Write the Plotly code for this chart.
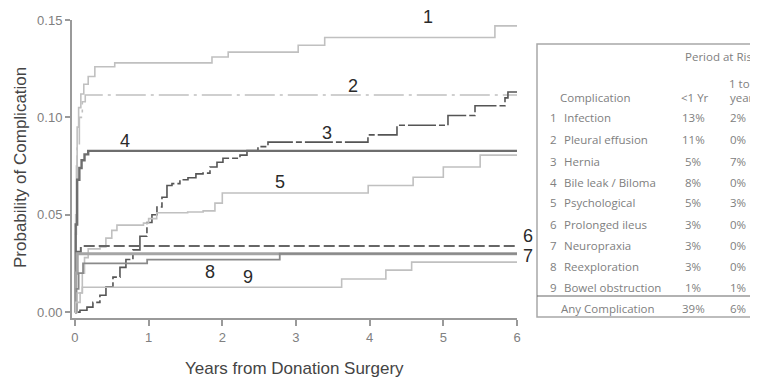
import plotly.graph_objects as go

# ---------------- data ----------------
t_infection = [0, 0.01, 0.02, 0.03, 0.05, 0.08, 0.12, 0.18, 0.27, 0.54, 1.86, 2.08, 3.03, 3.39, 5.70, 6.0]
v_infection = [0, 0.04, 0.075, 0.095, 0.105, 0.112, 0.117, 0.121, 0.126, 0.128, 0.131, 0.1335, 0.137, 0.141, 0.147, 0.147]

t_pleural = [0, 0.01, 0.03, 0.06, 0.10, 0.14, 6.0]
v_pleural = [0, 0.05, 0.085, 0.100, 0.108, 0.1115, 0.1115]

t_hernia = [0, 0.068, 0.163, 0.244, 0.339, 0.421, 0.516, 0.611, 0.692, 0.787, 0.882, 0.977, 1.045, 1.113,
            1.181, 1.249, 1.317, 1.425, 1.534, 1.642, 1.738, 1.833, 1.928, 2.009, 2.240, 2.335, 2.484,
            2.620, 3.977, 4.371, 5.063, 5.430, 5.837, 5.877, 6.0]
v_hernia = [0, 0.001, 0.0026, 0.005, 0.0087, 0.013, 0.018, 0.023, 0.027, 0.032, 0.039, 0.046, 0.050, 0.054,
            0.059, 0.065, 0.066, 0.068, 0.069, 0.071, 0.0714, 0.0745, 0.077, 0.079, 0.0806, 0.083, 0.085,
            0.0873, 0.091, 0.096, 0.101, 0.106, 0.110, 0.113, 0.113]

t_bile = [0, 0.01, 0.03, 0.06, 0.09, 0.13, 0.18, 6.0]
v_bile = [0, 0.045, 0.068, 0.074, 0.078, 0.081, 0.0828, 0.0828]

t_psych = [0, 0.03, 0.07, 0.10, 0.13, 0.18, 0.34, 0.42, 0.50, 0.57, 0.93, 1.00, 1.11, 1.53, 1.74, 1.90,
           2.00, 3.98, 4.59, 5.00, 5.50, 6.0]
v_psych = [0, 0.005, 0.010, 0.020, 0.028, 0.0325, 0.0335, 0.038, 0.042, 0.0447, 0.0457, 0.048, 0.051,
           0.0514, 0.052, 0.056, 0.0612, 0.065, 0.0693, 0.0745, 0.0806, 0.0806]

t_ileus = [0, 0.01, 0.02, 0.08, 6.0]
v_ileus = [0, 0.020, 0.031, 0.034, 0.034]

t_neuro = [0, 0.01, 0.03, 6.0]
v_neuro = [0, 0.020, 0.030, 0.030]

t_reexp = [0, 0.02, 0.05, 0.11, 0.98, 2.78, 6.0]
v_reexp = [0, 0.012, 0.020, 0.025, 0.027, 0.030, 0.030]

t_bowel = [0, 0.01, 0.03, 0.10, 3.62, 4.22, 4.57, 6.0]
v_bowel = [0, 0.005, 0.0098, 0.0128, 0.017, 0.0216, 0.0257, 0.0257]

curve_labels = ["1", "2", "3", "4", "5", "6", "7", "8", "9"]

x_ticks = [0, 1, 2, 3, 4, 5, 6]
y_ticks = [0.00, 0.05, 0.10, 0.15]

table_nums = ["1", "2", "3", "4", "5", "6", "7", "8", "9"]
table_names = ["Infection", "Pleural effusion", "Hernia", "Bile leak / Biloma", "Psychological",
               "Prolonged ileus", "Neuropraxia", "Reexploration", "Bowel obstruction"]
table_lt1 = ["13%", "11%", "5%", "8%", "5%", "3%", "3%", "3%", "1%"]
table_1to6 = ["2%", "0%", "7%", "0%", "3%", "0%", "0%", "0%", "1%"]
any_label = "Any Complication"
any_lt1 = "39%"
any_1to6 = "6%"

# ---------------- figure ----------------
OFF = 8  # page body margin offset
W, H = 758, 388
ML, MT = 72 - OFF, 20 - OFF
PW, PH = 445, 298
MR, MB = W - ML - PW, H - MT - PH


def px(x):
    return (x - OFF - ML) / PW


def py(y):
    return (MT + PH - (y - OFF)) / PH


LIGHT = "#c0c0c0"
series = [
    (t_infection, v_infection, dict(color=LIGHT, width=1.6)),
    (t_pleural, v_pleural, dict(color=LIGHT, width=1.6, dash="30px,5px,3px,5px")),
    (t_hernia, v_hernia, dict(color="#555555", width=1.6, dash="28px,3px,6px,3px")),
    (t_bile, v_bile, dict(color="#6e6e6e", width=2.4)),
    (t_psych, v_psych, dict(color=LIGHT, width=1.6)),
    (t_ileus, v_ileus, dict(color="#666666", width=2, dash="11px,4px")),
    (t_neuro, v_neuro, dict(color="#a5a5a5", width=3.2)),
    (t_reexp, v_reexp, dict(color="#8a8a8a", width=1.8)),
    (t_bowel, v_bowel, dict(color=LIGHT, width=1.6)),
]

fig = go.Figure()
for t, v, ln in series:
    fig.add_trace(go.Scatter(x=t, y=v, mode="lines", line=dict(shape="hv", **ln),
                             showlegend=False, hoverinfo="skip"))

annotations = []
label_px = [(428, 17), (353, 86), (327, 133), (125, 141), (280, 182), (528, 236), (528, 256), (210, 272), (248, 277)]
for lab, (lx, ly) in zip(curve_labels, label_px):
    annotations.append(dict(x=px(lx), y=py(ly), xref="paper", yref="paper", text=lab, showarrow=False,
                            font=dict(family="Liberation Sans, Arial", size=18, color="#2a2a2a"),
                            xanchor="center", yanchor="middle"))

annotations.append(dict(x=px(294), y=py(368), xref="paper", yref="paper", text="Years from Donation Surgery",
                        showarrow=False, xanchor="center", yanchor="middle",
                        font=dict(family="Liberation Sans, Arial", size=17, color="#444444")))
annotations.append(dict(x=px(21), y=py(168), xref="paper", yref="paper", text="Probability of Complication",
                        showarrow=False, xanchor="center", yanchor="middle", textangle=-90,
                        font=dict(family="Liberation Sans, Arial", size=17, color="#444444")))

TF = dict(family="Open Sans, Liberation Sans", size=11.5, color="#808080")


def tadd(x, y, text, anchor="left"):
    annotations.append(dict(x=px(x), y=py(y), xref="paper", yref="paper", text=text, showarrow=False,
                            font=TF, xanchor=anchor, yanchor="middle"))


tadd(683, 56, "Period at Risk")
tadd(727, 83, "1 to 6")
tadd(728, 97, "years")
tadd(558, 97, "Complication")
tadd(695, 97, "<1 Yr", "center")
row_y = [118, 139, 161, 182, 203, 224, 245, 266, 287]
for n, name, a, b, ry in zip(table_nums, table_names, table_lt1, table_1to6, row_y):
    tadd(553, ry, n, "center")
    tadd(562, ry, name)
    tadd(693, ry, a, "center")
    tadd(738, ry, b, "center")
tadd(559, 308, any_label)
tadd(693, 308, any_lt1, "center")
tadd(738, 308, any_1to6, "center")

shapes = [
    dict(type="rect", xref="paper", yref="paper", x0=px(537), x1=px(800), y0=py(317), y1=py(44),
         line=dict(color="#a8a8a8", width=1.5), fillcolor="rgba(0,0,0,0)"),
    dict(type="line", xref="paper", yref="paper", x0=px(537), x1=px(800), y0=py(296), y1=py(296),
         line=dict(color="#666666", width=1.2)),
]

fig.update_layout(
    width=W, height=H,
    margin=dict(l=ML, r=MR, t=MT, b=MB, pad=0, autoexpand=False),
    paper_bgcolor="white", plot_bgcolor="white",
    annotations=annotations, shapes=shapes,
    xaxis=dict(range=[-0.04, 6.0], tickvals=x_ticks, ticktext=[str(v) for v in x_ticks],
               automargin=False,
               showgrid=False, zeroline=False, showline=True, linecolor="#9a9a9a", linewidth=2,
               ticks="outside", ticklen=6, tickcolor="#9a9a9a", tickwidth=1.5,
               tickfont=dict(family="Liberation Sans, Arial", size=13, color="#808080")),
    yaxis=dict(range=[-0.003, 0.15], tickvals=y_ticks, ticktext=["%.2f" % v for v in y_ticks],
               automargin=False,
               showgrid=False, zeroline=False, showline=True, linecolor="#9a9a9a", linewidth=2,
               ticks="outside", ticklen=5, tickcolor="#9a9a9a", tickwidth=1.5,
               tickfont=dict(family="Liberation Sans, Arial", size=13, color="#808080")),
)

fig.write_html("out.html")
